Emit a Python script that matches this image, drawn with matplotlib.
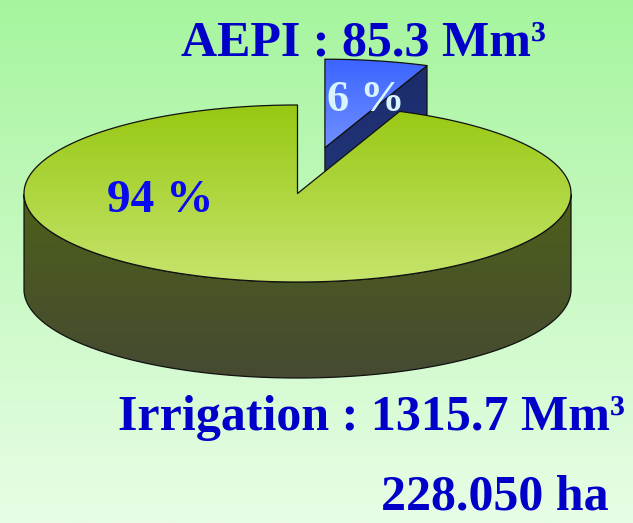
import numpy as np
import matplotlib.pyplot as plt
from matplotlib.patches import Polygon
from matplotlib.colors import LinearSegmentedColormap

# data (Mm3), clockwise from 12 o'clock
names = ['AEPI', 'Irrigation']
volumes = [85.3, 1315.7]
explode = [0.527, 0.0]
area_text = '228.050 ha'

top_colors = [('#3c64ff', '#7090ff'), ('#97c812', '#c6e46c')]
face_colors = [('#1c2c6c', '#243a80'), ('#4d601a', '#454a32')]
pct_colors = ['#d8f4ff', '#0a0af0']

plt.rcParams['font.family'] = ['Liberation Serif', 'DejaVu Serif']

W, H = 633, 523
fig = plt.figure(figsize=(W / 100, H / 100), dpi=100)

# background gradient
bg = fig.add_axes([0, 0, 1, 1], zorder=0)
bg_cmap = LinearSegmentedColormap.from_list('bg', ['#a6f59e', '#e8fde6'])
bg.imshow(np.linspace(0, 1, 256).reshape(-1, 1), aspect='auto', cmap=bg_cmap,
          extent=[0, 1, 0, 1])
bg.axis('off')

ax = fig.add_axes([0, 0, 1, 1], zorder=1)
ax.patch.set_alpha(0)
cx_px, cy_px, rad_px = 297.5, 193.5, 273.5
ax.set_xlim(-cx_px / rad_px, (W - cx_px) / rad_px)
ax.set_ylim(-(H - cy_px) / rad_px, cy_px / rad_px)
ax.axis('off')

tilt = 0.3236
depth = 0.351


def proj(t, r=1.0, z=0.0, off=(0.0, 0.0)):
    t = np.radians(t)
    return (r * np.cos(t) + off[0], tilt * (r * np.sin(t) + off[1]) + z)


def grad_fill(pts, c_top, c_bot, z):
    poly = Polygon(pts, closed=True, facecolor='none', edgecolor='#111111',
                   lw=0.9, zorder=z + 0.5, joinstyle='round')
    ax.add_patch(poly)
    xs = [p[0] for p in pts]
    ys = [p[1] for p in pts]
    cm = LinearSegmentedColormap.from_list('g', [c_top, c_bot])
    im = ax.imshow(np.linspace(0, 1, 256).reshape(-1, 1), aspect='auto', cmap=cm,
                   extent=[min(xs), max(xs), min(ys), max(ys)], zorder=z,
                   interpolation='bilinear')
    im.set_clip_path(poly)


fracs = np.array(volumes) / sum(volumes)
start = 90.0
z = 2
for i, f in enumerate(fracs):
    hi = start
    lo = start - 360 * f
    start = lo
    mid = np.radians((lo + hi) / 2)
    off = (explode[i] * np.cos(mid), explode[i] * np.sin(mid))
    c0 = proj(0, 0, 0, off)

    # radial face at the lower angle
    if np.cos(np.radians(lo)) > 1e-6:
        e = proj(lo, 1, 0, off)
        pts = [c0, e, (e[0], e[1] - depth), (c0[0], c0[1] - depth)]
        grad_fill(pts, face_colors[i][0], face_colors[i][1], z)
        z += 1
    # radial face at the upper angle
    if np.cos(np.radians(hi)) < -1e-6:
        e = proj(hi, 1, 0, off)
        pts = [c0, e, (e[0], e[1] - depth), (c0[0], c0[1] - depth)]
        grad_fill(pts, face_colors[i][0], face_colors[i][1], z)
        z += 1

    # outer wall (front half only)
    ts = np.linspace(lo, hi, 400)
    vis = ts[np.sin(np.radians(ts)) <= 0]
    if len(vis) > 1:
        upper = [proj(t, 1, 0, off) for t in vis]
        lower = [proj(t, 1, -depth, off) for t in vis[::-1]]
        grad_fill(upper + lower, face_colors[i][0], face_colors[i][1], z)
        z += 1

    # top surface
    pts = [c0] + [proj(t, 1, 0, off) for t in ts]
    grad_fill(pts, top_colors[i][0], top_colors[i][1], z)
    z += 1


def px(x, y):
    return x / W, 1 - y / H


pcts = [f'{100 * f:.0f} %' for f in fracs]
fig.text(*px(366, 111), pcts[0], color=pct_colors[0], fontsize=32,
         fontweight='bold', ha='center', va='baseline', zorder=5)
fig.text(*px(160, 212), pcts[1], color=pct_colors[1], fontsize=34,
         fontweight='bold', ha='center', va='baseline', zorder=5)

fig.text(*px(363, 55), f'{names[0]} : {volumes[0]} Mm\u00b3', color='#0000c8',
         fontsize=36, fontweight='bold', ha='center', va='baseline', zorder=5)
fig.text(*px(371, 430), f'{names[1]} : {volumes[1]} Mm\u00b3', color='#0000c8',
         fontsize=36, fontweight='bold', ha='center', va='baseline', zorder=5)
fig.text(*px(495, 510), area_text, color='#0000c8',
         fontsize=36, fontweight='bold', ha='center', va='baseline', zorder=5)

fig.savefig('out.png', dpi=100)
